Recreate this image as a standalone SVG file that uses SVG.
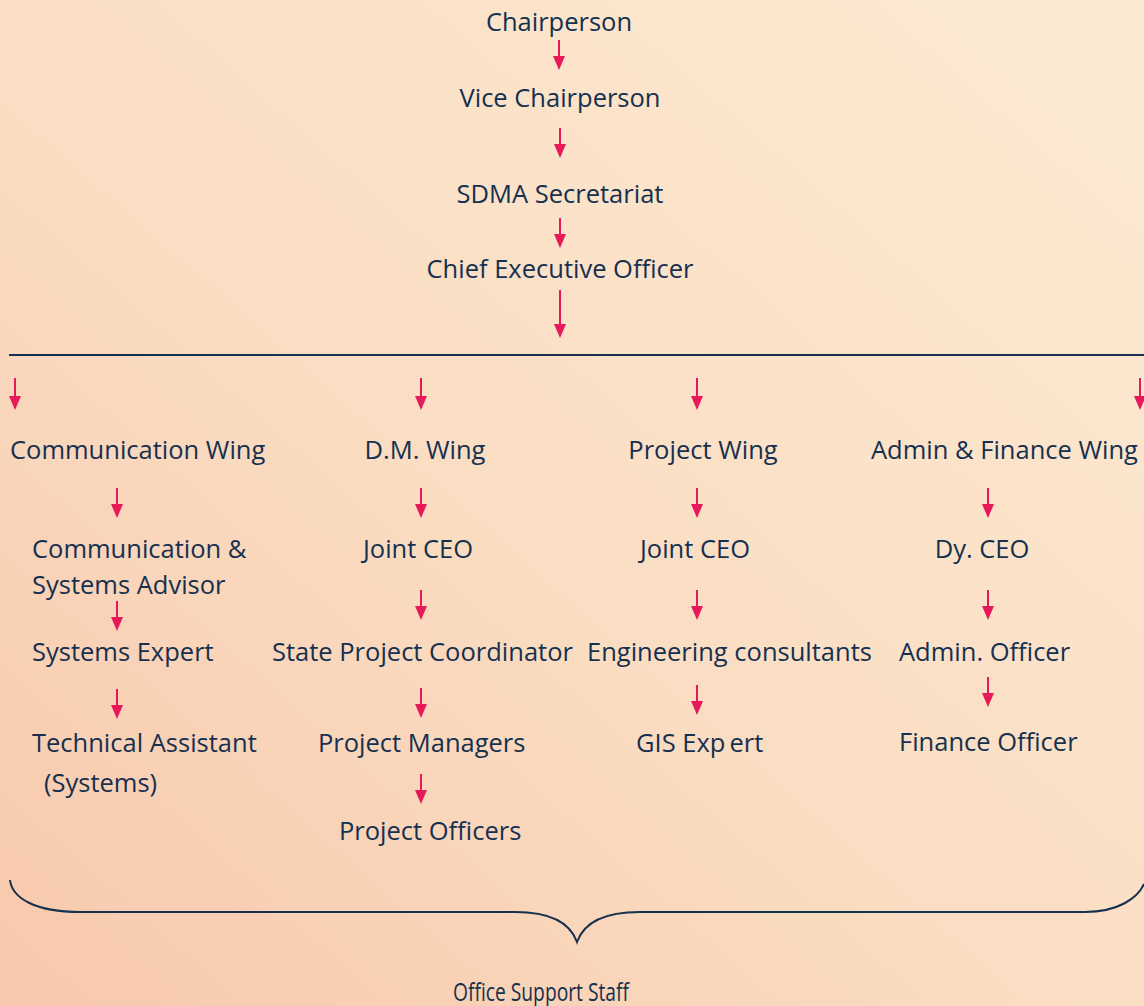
<svg xmlns="http://www.w3.org/2000/svg" width="1144" height="1006" viewBox="0 0 1144 1006">
<defs>
<linearGradient id="bg" x1="0" y1="1" x2="1" y2="0">
<stop offset="0" stop-color="#F8C8AC"/>
<stop offset="0.45" stop-color="#FADDC2"/>
<stop offset="1" stop-color="#FCEBD3"/>
</linearGradient>
<style>
text{font-family:"Open Sans","Noto Sans",sans-serif;font-size:25.5px;font-weight:500;fill:#16304F}
.c{text-anchor:middle}
.a{stroke:#E8195B;stroke-width:2;fill:none}
.h{fill:#E8195B}
</style>
</defs>
<rect width="1144" height="1006" fill="url(#bg)"/>
<g id="connectors">
<path class="a" d="M559,40 V58"/><path class="h" d="M553,56 L565,56 L559,70 Z"/>
<path class="a" d="M560,128 V146"/><path class="h" d="M554,144 L566,144 L560,158 Z"/>
<path class="a" d="M560,218 V236"/><path class="h" d="M554,234 L566,234 L560,248 Z"/>
<path class="a" d="M560,290 V326"/><path class="h" d="M554,324 L566,324 L560,338 Z"/>
<path class="a" d="M15,378 V398"/><path class="h" d="M9,396 L21,396 L15,410 Z"/>
<path class="a" d="M421,378 V398"/><path class="h" d="M415,396 L427,396 L421,410 Z"/>
<path class="a" d="M697,378 V398"/><path class="h" d="M691,396 L703,396 L697,410 Z"/>
<path class="a" d="M1140,378 V398"/><path class="h" d="M1134,396 L1146,396 L1140,410 Z"/>
<path class="a" d="M117,488 V506"/><path class="h" d="M111,504 L123,504 L117,518 Z"/>
<path class="a" d="M421,488 V506"/><path class="h" d="M415,504 L427,504 L421,518 Z"/>
<path class="a" d="M697,488 V506"/><path class="h" d="M691,504 L703,504 L697,518 Z"/>
<path class="a" d="M988,488 V506"/><path class="h" d="M982,504 L994,504 L988,518 Z"/>
<path class="a" d="M117,601 V619"/><path class="h" d="M111,617 L123,617 L117,631 Z"/>
<path class="a" d="M421,590 V608"/><path class="h" d="M415,606 L427,606 L421,620 Z"/>
<path class="a" d="M697,590 V608"/><path class="h" d="M691,606 L703,606 L697,620 Z"/>
<path class="a" d="M988,590 V608"/><path class="h" d="M982,606 L994,606 L988,620 Z"/>
<path class="a" d="M117,689 V707"/><path class="h" d="M111,705 L123,705 L117,719 Z"/>
<path class="a" d="M421,688 V706"/><path class="h" d="M415,704 L427,704 L421,718 Z"/>
<path class="a" d="M697,685 V703"/><path class="h" d="M691,701 L703,701 L697,715 Z"/>
<path class="a" d="M988,677 V695"/><path class="h" d="M982,693 L994,693 L988,707 Z"/>
<path class="a" d="M421,774 V792"/><path class="h" d="M415,790 L427,790 L421,804 Z"/>
<path d="M9,355 H1144" stroke="#16304F" stroke-width="2" fill="none"/>
<path d="M10,880 C12,898 35,912 80,912 L515,912 C548,912 570,922 577,942 C584,922 606,912 640,912 L1085,912 C1118,912 1138,898 1144,884" stroke="#16304F" stroke-width="2" fill="none"/>
</g>
<g id="chairperson"><text class="c" x="559" y="31">Chairperson</text></g>
<g id="vice-chairperson"><text class="c" x="560" y="107">Vice Chairperson</text></g>
<g id="sdma-secretariat"><text class="c" x="560" y="203">SDMA Secretariat</text></g>
<g id="ceo"><text class="c" x="560" y="278">Chief Executive Officer</text></g>
<g id="communication-wing"><text x="10" y="459">Communication Wing</text></g>
<g id="dm-wing"><text class="c" x="425" y="459">D.M. Wing</text></g>
<g id="project-wing"><text class="c" x="703" y="459">Project Wing</text></g>
<g id="admin-finance-wing"><text x="871" y="459">Admin &amp; Finance Wing</text></g>
<g id="comm-systems-advisor"><text x="32" y="558">Communication &amp;</text><text x="32" y="594">Systems Advisor</text></g>
<g id="joint-ceo-dm"><text class="c" x="418" y="558">Joint CEO</text></g>
<g id="joint-ceo-project"><text class="c" x="695" y="558">Joint CEO</text></g>
<g id="dy-ceo"><text class="c" x="982" y="558">Dy. CEO</text></g>
<g id="systems-expert"><text x="32" y="661">Systems Expert</text></g>
<g id="state-project-coordinator"><text x="272" y="661">State Project Coordinator</text></g>
<g id="engineering-consultants"><text x="587" y="661">Engineering consultants</text></g>
<g id="admin-officer"><text x="899" y="661">Admin. Officer</text></g>
<g id="technical-assistant"><text x="32" y="752">Technical Assistant</text><text x="44" y="792">(Systems)</text></g>
<g id="project-managers"><text x="318" y="752">Project Managers</text></g>
<g id="gis-expert"><text x="636" y="752">GIS Exp<tspan dx="4">ert</tspan></text></g>
<g id="finance-officer"><text x="899" y="751">Finance Officer</text></g>
<g id="project-officers"><text x="339" y="840">Project Officers</text></g>
<g id="office-support-staff"><text x="453" y="1001" font-size="28" textLength="176" lengthAdjust="spacingAndGlyphs">Office Support Staff</text></g>
</svg>
